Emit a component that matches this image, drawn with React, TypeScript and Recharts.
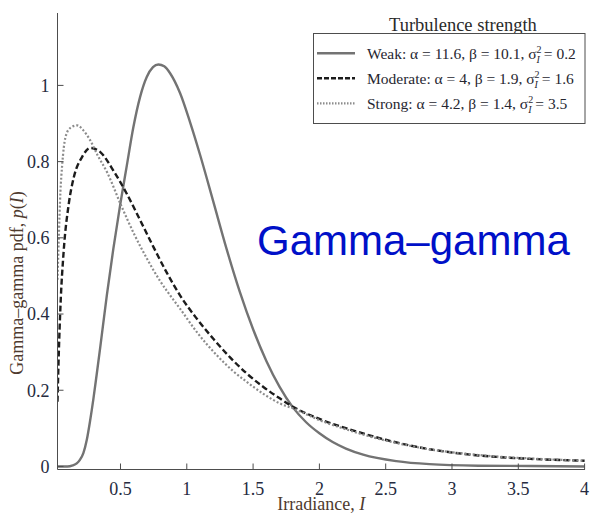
import React from 'react';
import { LineChart, Line, XAxis, YAxis, Legend, Customized } from 'recharts';

// ---------- data ----------
const xTicks = [0.5, 1, 1.5, 2, 2.5, 3, 3.5, 4];
const xTickLabels = ['0.5', '1', '1.5', '2', '2.5', '3', '3.5', '4'];
const yTicks = [0, 0.2, 0.4, 0.6, 0.8, 1];
const yTickLabels = ['0', '0.2', '0.4', '0.6', '0.8', '1'];

const weakI = [0.025, 0.1, 0.14, 0.17, 0.195, 0.22, 0.246, 0.27, 0.296, 0.32, 0.346, 0.397, 0.446, 0.497, 0.548, 0.597, 0.648, 0.698, 0.745, 0.786, 0.83, 0.874, 0.949, 1.025, 1.1, 1.2, 1.3, 1.4, 1.5, 1.6, 1.7, 1.8, 1.9, 2.0, 2.1, 2.2, 2.33, 2.58, 2.83, 3.2, 3.6, 4.0];
const weakP = [0.0, 0.0, 0.003, 0.008, 0.018, 0.035, 0.07, 0.118, 0.178, 0.24, 0.309, 0.449, 0.571, 0.685, 0.79, 0.89, 0.97, 1.022, 1.048, 1.055, 1.05, 1.032, 0.98, 0.903, 0.818, 0.695, 0.571, 0.458, 0.36, 0.277, 0.209, 0.155, 0.116, 0.087, 0.064, 0.047, 0.031, 0.014, 0.006, 0.002, 0.001, 0.0];

const moderateI = [0.025, 0.035, 0.047, 0.072, 0.11, 0.148, 0.21, 0.273, 0.348, 0.449, 0.55, 0.65, 0.75, 0.85, 0.949, 1.075, 1.2, 1.33, 1.452, 1.58, 1.704, 1.804, 2.005, 2.232, 2.5, 2.835, 3.086, 3.338, 3.589, 4.0];
const moderateP = [0.17, 0.3, 0.418, 0.567, 0.689, 0.759, 0.812, 0.836, 0.825, 0.775, 0.714, 0.645, 0.575, 0.508, 0.449, 0.388, 0.335, 0.285, 0.244, 0.208, 0.178, 0.156, 0.124, 0.097, 0.07, 0.045, 0.033, 0.025, 0.02, 0.015];

const strongI = [0.025, 0.035, 0.047, 0.06, 0.085, 0.12, 0.173, 0.22, 0.273, 0.33, 0.399, 0.5, 0.6, 0.7, 0.8, 0.9, 0.949, 1.075, 1.226, 1.35, 1.452, 1.58, 1.704, 1.804, 2.005, 2.232, 2.5, 2.835, 3.086, 3.338, 3.589, 4.0];
const strongP = [0.49, 0.602, 0.72, 0.79, 0.864, 0.888, 0.895, 0.882, 0.855, 0.815, 0.772, 0.689, 0.612, 0.545, 0.486, 0.437, 0.414, 0.353, 0.292, 0.25, 0.222, 0.19, 0.165, 0.152, 0.121, 0.094, 0.068, 0.045, 0.034, 0.026, 0.021, 0.015];

const legendNames = ['Weak', 'Moderate', 'Strong'];
const alphas = ['11.6', '4', '4.2'];
const betas = ['10.1', '1.9', '1.4'];
const sigmas = ['0.2', '1.6', '3.5'];

const toRows = (xs: number[], ys: number[]) => xs.map((x, i) => ({ x, p: ys[i] }));
const weakRows = toRows(weakI, weakP);
const moderateRows = toRows(moderateI, moderateP);
const strongRows = toRows(strongI, strongP);

// ---------- styles ----------
const SERIF = '"Liberation Serif", "DejaVu Serif", serif';
const SANS = '"Liberation Sans", Arial, sans-serif';
const FRAME = '#4d4d4d';
const TICK_TXT = '#262b40';
const LABEL_TXT = '#4e3a2e';

const seriesStyle = [
  { stroke: '#737373', width: 2.4, dash: undefined as string | undefined },
  { stroke: '#1c1c1c', width: 2.4, dash: '6 3' },
  { stroke: '#8c8c8c', width: 2.2, dash: '2 2' },
];

const fmt = (list: number[], labels: string[], v: number) => {
  const i = list.findIndex((t) => Math.abs(t - v) < 1e-9);
  return i >= 0 ? labels[i] : String(v);
};

const BottomTick = (props: any) => {
  const { x, y, payload } = props;
  return (
    <g>
      <line x1={x} x2={x} y1={y} y2={y - 6} stroke={FRAME} strokeWidth={1} />
      <text x={x} y={y + 25.5} textAnchor="middle" fontFamily={SERIF} fontSize={18} fill={TICK_TXT}>
        {fmt(xTicks, xTickLabels, payload.value)}
      </text>
    </g>
  );
};

const TopTick = (props: any) => {
  const { x, y } = props;
  return <line x1={x} x2={x} y1={y} y2={y + 5} stroke={FRAME} strokeWidth={1} />;
};

const LeftTick = (props: any) => {
  const { x, y, payload } = props;
  return (
    <g>
      <line x1={x} x2={x + 6} y1={y} y2={y} stroke={FRAME} strokeWidth={1} />
      <text x={x - 8} y={y} dy="0.35em" textAnchor="end" fontFamily={SERIF} fontSize={18} fill={TICK_TXT}>
        {fmt(yTicks, yTickLabels, payload.value)}
      </text>
    </g>
  );
};

const RightTick = (props: any) => {
  const { x, y } = props;
  return <line x1={x} x2={x - 5} y1={y} y2={y} stroke={FRAME} strokeWidth={1} />;
};

const XLabel = (props: any) => {
  const vb = props.viewBox || { x: 57.5, y: 469.5, width: 527.5, height: 44.5 };
  return (
    <text x={vb.x + vb.width / 2} y={vb.y + vb.height - 4.5} textAnchor="middle" fontFamily={SERIF} fontSize={18} fill={LABEL_TXT}>
      Irradiance, <tspan fontStyle="italic">I</tspan>
    </text>
  );
};

const YLabel = () => (
  <text transform="translate(23,283) rotate(-90)" textAnchor="middle" fontFamily={SERIF} fontSize={18} fill={LABEL_TXT}>
    Gamma–gamma pdf, <tspan fontStyle="italic">p</tspan>(<tspan fontStyle="italic">I</tspan>)
  </text>
);

const LegendContent = () => (
  <svg width={276} height={116} style={{ display: 'block', overflow: 'visible' }}>
    <text x={76} y={19} fontFamily={SERIF} fontSize={18.5} fill="#2a2a2a">Turbulence strength</text>
    <rect x={0.5} y={21.5} width={271.5} height={90} fill="#ffffff" stroke={FRAME} strokeWidth={1} />
    {legendNames.map((name, i) => {
      const cy = 41.3 + i * 25;
      const s = seriesStyle[i];
      return (
        <g key={name}>
          <line x1={4} x2={42} y1={cy} y2={cy} stroke={s.stroke} strokeWidth={s.width}
            strokeDasharray={i === 1 ? '5 2' : i === 2 ? '1.5 1.5' : undefined} />
          <text x={54} y={cy + 5.5} fontFamily={SERIF} fontSize={15.5} fill="#262630">
            {`${name}: α = ${alphas[i]}, β = ${betas[i]}, σ`}
            <tspan fontSize={10} dy={-6}>2</tspan>
            <tspan fontSize={10} fontStyle="italic" dx={-5} dy={10}>I</tspan>
            <tspan dy={-4}>{` = ${sigmas[i]}`}</tspan>
          </text>
        </g>
      );
    })}
  </svg>
);

const Annotation = () => (
  <text x={257} y={255} fontFamily={SANS} fontSize={42} fill="#0010c8">Gamma–gamma</text>
);

export default function App() {
  return (
    <div style={{ position: 'absolute', left: 0, top: 0, width: 592, height: 514, background: '#fff' }}>
      <LineChart width={592} height={514} margin={{ top: 13, right: 7, bottom: 0, left: 0 }}>
        <XAxis xAxisId="b" type="number" dataKey="x" orientation="bottom" domain={[0.025, 4.003]} allowDataOverflow
          ticks={xTicks} height={44.5} tickSize={0} tickMargin={0} tickLine={false}
          axisLine={{ stroke: FRAME, strokeWidth: 1 }} tick={<BottomTick />} label={<XLabel />} />
        <XAxis xAxisId="t" type="number" dataKey="x" orientation="top" domain={[0.025, 4.003]} allowDataOverflow
          ticks={xTicks} height={0} tickSize={0} tickMargin={0} tickLine={false}
          axisLine={{ stroke: FRAME, strokeWidth: 1 }} tick={<TopTick />} />
        <YAxis yAxisId="l" type="number" orientation="left" domain={[-0.008, 1.19]} allowDataOverflow
          ticks={yTicks} width={57.5} tickSize={0} tickMargin={0} tickLine={false}
          axisLine={{ stroke: FRAME, strokeWidth: 1 }} tick={<LeftTick />} label={<YLabel />} />
        <YAxis yAxisId="r" type="number" orientation="right" domain={[-0.008, 1.19]} allowDataOverflow
          ticks={yTicks} width={0} tickSize={0} tickMargin={0} tickLine={false}
          axisLine={{ stroke: FRAME, strokeWidth: 1 }} tick={<RightTick />} />
        <Line xAxisId="b" yAxisId="l" data={weakRows} dataKey="p" name="Weak" type="monotone" dot={false}
          stroke={seriesStyle[0].stroke} strokeWidth={seriesStyle[0].width} isAnimationActive={false} />
        <Line xAxisId="b" yAxisId="l" data={moderateRows} dataKey="p" name="Moderate" type="monotone" dot={false}
          stroke={seriesStyle[1].stroke} strokeWidth={seriesStyle[1].width} strokeDasharray={seriesStyle[1].dash} isAnimationActive={false} />
        <Line xAxisId="b" yAxisId="l" data={strongRows} dataKey="p" name="Strong" type="monotone" dot={false}
          stroke={seriesStyle[2].stroke} strokeWidth={seriesStyle[2].width} strokeDasharray={seriesStyle[2].dash} isAnimationActive={false} />
        <Legend layout="horizontal" verticalAlign="middle" align="center" content={<LegendContent />}
          wrapperStyle={{ left: 313, top: 12, width: 276, height: 116 }} />
        <Customized component={<Annotation />} />
      </LineChart>
    </div>
  );
}
